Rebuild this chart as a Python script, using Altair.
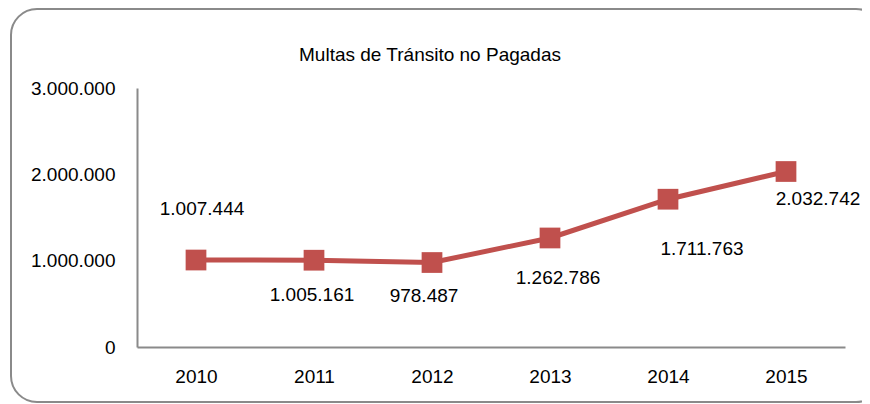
import altair as alt
import pandas as pd

years = ["2010", "2011", "2012", "2013", "2014", "2015"]
values = [1007444, 1005161, 978487, 1262786, 1711763, 2032742]
y_ticks = [0, 1000000, 2000000, 3000000]
title_text = "Multas de Tránsito no Pagadas"

# label offsets (dx, dy) in pixels, per point (styling only)
label_offsets = [(6, -51), (-2, 35), (-8, 33), (8, 40), (34, 50), (32, 27)]

FONT = "Liberation Sans, Arial, sans-serif"
FS = 19
RED = "#C0504D"
GRAY = "#8a8a8a"

df = pd.DataFrame({
    "year": years,
    "value": values,
    "label": [f"{v:,}".replace(",", ".") for v in values],
})

W, H = 708, 259
PAD = {"left": 129, "top": 80, "right": 17, "bottom": 57}

x = alt.X("year:O", scale=alt.Scale(type="point", padding=0.5), sort=years,
          axis=alt.Axis(title=None, labelAngle=0, ticks=False, tickSize=0, domainColor=GRAY,
                        domainWidth=2, labelPadding=20, labelFont=FONT, labelFontSize=FS,
                        labelColor="#000000", grid=False))
y = alt.Y("value:Q", scale=alt.Scale(domain=[0, 3000000]),
          axis=alt.Axis(title=None, values=y_ticks, ticks=False, tickSize=0, domainColor=GRAY,
                        domainWidth=2, labelPadding=22, labelFont=FONT, labelFontSize=FS,
                        labelColor="#000000", grid=False,
                        labelExpr="replace(format(datum.value, ',d'), /,/g, '.')"))

base = alt.Chart(df)
one = pd.DataFrame({"t": [title_text]})

border = alt.Chart(one).mark_rect(
    fill=None, stroke=GRAY, strokeWidth=2, cornerRadius=26
).encode(x=alt.value(-126), x2=alt.value(745), y=alt.value(-79), y2=alt.value(314))

title = alt.Chart(one).mark_text(
    font=FONT, fontSize=FS, color="#000000", align="center", baseline="alphabetic"
).encode(x=alt.value(293), y=alt.value(-27), text="t:N")

line = base.mark_line(color=RED, strokeWidth=5).encode(x=x, y=y)
pts = base.mark_square(color=RED, size=430, opacity=1, filled=True).encode(x=x, y=y)

labels = []
for yr, (dx, dy) in zip(years, label_offsets):
    labels.append(
        base.transform_filter(alt.datum.year == yr).mark_text(
            font=FONT, fontSize=FS, color="#000000", dx=dx, dy=dy, align="center", baseline="middle"
        ).encode(x=x, y=y, text="label:N")
    )

chart = alt.layer(border, title, line, pts, *labels).properties(
    width=W, height=H,
    background="white",
    autosize=alt.AutoSizeParams(type="none"),
    padding=PAD,
).configure_view(stroke=None)

chart.save("out.html", embed_options={"renderer": "svg", "actions": False})
